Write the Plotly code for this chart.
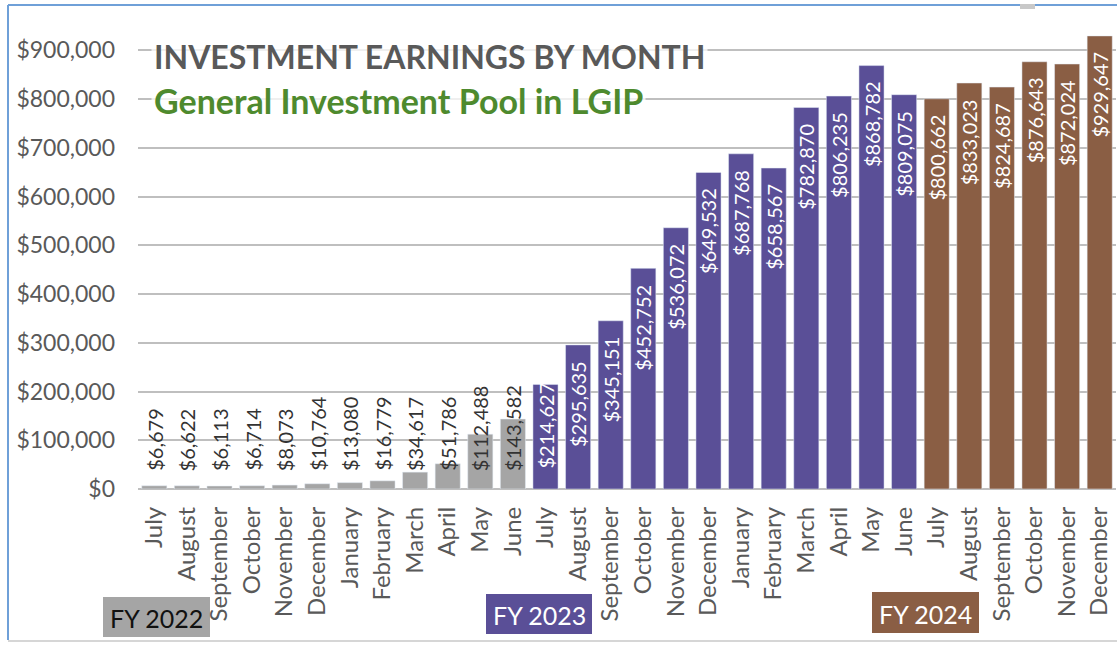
import plotly.graph_objects as go

# ---------------- data ----------------
months = ["July", "August", "September", "October", "November", "December",
          "January", "February", "March", "April", "May", "June",
          "July", "August", "September", "October", "November", "December",
          "January", "February", "March", "April", "May", "June",
          "July", "August", "September", "October", "November", "December"]

fy2022_values = [6679, 6622, 6113, 6714, 8073, 10764, 13080, 16779, 34617, 51786, 112488, 143582]
fy2023_values = [214627, 295635, 345151, 452752, 536072, 649532, 687768, 658567, 782870, 806235, 868782, 809075]
fy2024_values = [800662, 833023, 824687, 876643, 872024, 929647]

fy_labels = ["FY 2022", "FY 2023", "FY 2024"]
title_text = "INVESTMENT EARNINGS BY MONTH"
subtitle_text = "General Investment Pool in LGIP"

# ---------------- styling ----------------
W, H = 1117, 645
ML, MR, MT, MB = 138, 1, 26, 156
FONT = "Lato"
C_GRAY = "#A5A5A5"
C_PURPLE = "#5A4F97"
C_BROWN = "#8A5E44"
C_TEXT = "#595959"
GRID = "#BFBFBF"
YMAX = 950000
LABEL_SIZE = 20
LABEL_LEN_PX = 88      # approximate rotated label length
END_PAD = 15           # gap between bar top and label (inside end)
BASE_PAD = 16          # gap between axis and label (inside base)

PW = W - ML - MR
PH = H - MT - MB


def px_x(p):
    return (p - ML) / PW


def px_y(p):
    return (H - MB - p) / PH


n22, n23, n24 = len(fy2022_values), len(fy2023_values), len(fy2024_values)
x22 = list(range(n22))
x23 = list(range(n22, n22 + n23))
x24 = list(range(n22 + n23, n22 + n23 + n24))

fig = go.Figure()
for xs, vals, col, nm in [(x22, fy2022_values, C_GRAY, fy_labels[0]),
                          (x23, fy2023_values, C_PURPLE, fy_labels[1]),
                          (x24, fy2024_values, C_BROWN, fy_labels[2])]:
    fig.add_bar(x=xs, y=vals, marker_color=col, name=nm)

annotations = []
# labels for FY2022 bars (near base, dark text)
for xi, v in zip(x22, fy2022_values):
    annotations.append(dict(x=xi, y=0, xref="x", yref="y", text=f"${v:,}",
                            textangle=-90, showarrow=False, yanchor="bottom",
                            xanchor="center", yshift=BASE_PAD,
                            font=dict(family=FONT, size=LABEL_SIZE, color="#333333")))
# labels for FY2023/FY2024 bars (inside end, white text)
for xi, v in zip(x23 + x24, fy2023_values + fy2024_values):
    bar_px = v / YMAX * PH
    if bar_px >= LABEL_LEN_PX + 2 * END_PAD:
        ann = dict(y=v, yanchor="top", yshift=-END_PAD + 1)
    else:
        ann = dict(y=0, yanchor="bottom", yshift=BASE_PAD + 2)
    annotations.append(dict(x=xi, xref="x", yref="y", text=f"${v:,}",
                            textangle=-90, showarrow=False, xanchor="center",
                            font=dict(family=FONT, size=LABEL_SIZE, color="white"),
                            **ann))

# titles
annotations.append(dict(x=px_x(151), y=px_y(57), xref="paper", yref="paper",
                        text="<b>" + title_text + "</b>", showarrow=False,
                        xanchor="left", yanchor="middle", borderpad=2,
                        bgcolor="rgba(255,255,255,0.75)",
                        font=dict(family=FONT, size=32, color=C_TEXT)))
annotations.append(dict(x=px_x(151), y=px_y(100), xref="paper", yref="paper",
                        text="<b>" + subtitle_text + "</b>", showarrow=False,
                        xanchor="left", yanchor="middle", borderpad=2,
                        bgcolor="rgba(255,255,255,0.75)",
                        font=dict(family=FONT, size=34, color="#4E8A2E")))

# FY boxes
fy_boxes = [(103, 210, 597, 637, C_GRAY, "#111111"),
            (486, 592, 594, 634, C_PURPLE, "white"),
            (872, 979, 592, 633, C_BROWN, "white")]
shapes = []
for (x0, x1, y0, y1, bg, fc), lab in zip(fy_boxes, fy_labels):
    shapes.append(dict(type="rect", xref="paper", yref="paper",
                       x0=px_x(x0), x1=px_x(x1), y0=px_y(y1), y1=px_y(y0),
                       fillcolor=bg, line=dict(width=0), layer="below"))
    annotations.append(dict(x=px_x((x0 + x1) / 2), y=px_y((y0 + y1) / 2 + 1),
                            xref="paper", yref="paper", text=lab, showarrow=False,
                            xanchor="center", yanchor="middle",
                            font=dict(family=FONT, size=25, color=fc)))

# frame lines (screenshot border)
shapes.append(dict(type="line", xref="paper", yref="paper",
                   x0=px_x(8), x1=px_x(8), y0=px_y(5), y1=px_y(640),
                   line=dict(color="#6FA0D8", width=2)))
shapes.append(dict(type="line", xref="paper", yref="paper",
                   x0=px_x(8), x1=px_x(1117), y0=px_y(5), y1=px_y(5),
                   line=dict(color="#6FA0D8", width=2)))
shapes.append(dict(type="line", xref="paper", yref="paper",
                   x0=px_x(8), x1=px_x(1117), y0=px_y(641), y1=px_y(641),
                   line=dict(color="#D6D6D6", width=2)))
shapes.append(dict(type="rect", xref="paper", yref="paper",
                   x0=px_x(1020), x1=px_x(1035), y0=px_y(9), y1=px_y(4),
                   fillcolor="#C8C8C8", line=dict(width=0)))

fig.update_layout(
    width=W, height=H,
    margin=dict(l=ML, r=MR, t=MT, b=MB, autoexpand=False),
    paper_bgcolor="white", plot_bgcolor="white",
    showlegend=False, barmode="overlay", bargap=0.23,
    annotations=annotations, shapes=shapes,
    font=dict(family=FONT, color=C_TEXT),
)
fig.update_xaxes(range=[-0.5, len(months) - 0.5], tickmode="array",
                 tickvals=list(range(len(months))), ticktext=months,
                 tickangle=-90, showgrid=False, showline=False, ticks="",
                 ticklabelstandoff=12,
                 tickfont=dict(family=FONT, size=24, color=C_TEXT))
fig.update_yaxes(range=[0, YMAX], dtick=100000, tickformat="$,.0f",
                 showgrid=True, gridcolor=GRID, gridwidth=1.5,
                 zeroline=True, zerolinecolor=GRID, zerolinewidth=1.5,
                 showline=False, ticks="", ticklabelstandoff=22,
                 tickfont=dict(family=FONT, size=23, color=C_TEXT))

fig.write_html("out.html", config={"displayModeBar": False},
               post_script="document.body.style.margin='0px';document.body.style.overflow='hidden';")
